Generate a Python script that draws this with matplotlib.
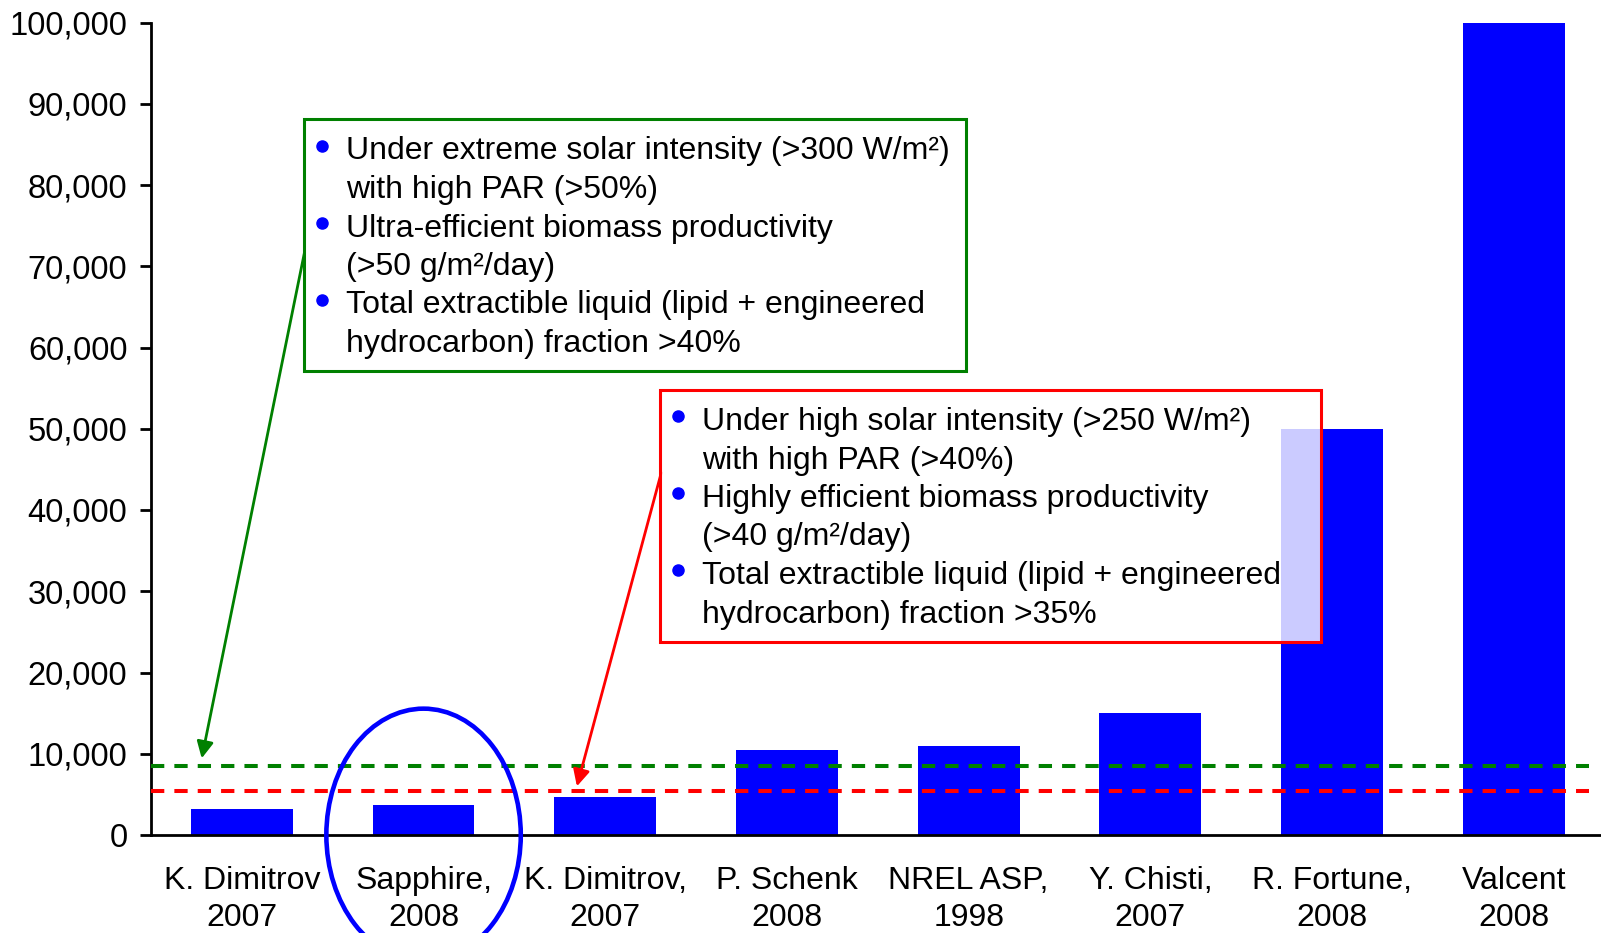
import matplotlib
matplotlib.use("Agg")
import matplotlib.pyplot as plt
from matplotlib.patches import Rectangle, Ellipse
from matplotlib.lines import Line2D

plt.rcParams['font.family'] = ['Liberation Sans', 'DejaVu Sans']

# data
labels = ["K. Dimitrov\n2007", "Sapphire,\n2008", "K. Dimitrov,\n2007", "P. Schenk\n2008",
          "NREL ASP,\n1998", "Y. Chisti,\n2007", "R. Fortune,\n2008", "Valcent\n2008"]
values = [3200, 3700, 4700, 10500, 11000, 15000, 50000, 100000]
yticks = [0, 10000, 20000, 30000, 40000, 50000, 60000, 70000, 80000, 90000, 100000]
green_level = 8500
red_level = 5400

green_lines = ["Under extreme solar intensity (>300 W/m²)",
               "with high PAR (>50%)",
               "Ultra-efficient biomass productivity",
               "(>50 g/m²/day)",
               "Total extractible liquid (lipid + engineered",
               "hydrocarbon) fraction >40%"]
red_lines = ["Under high solar intensity (>250 W/m²)",
             "with high PAR (>40%)",
             "Highly efficient biomass productivity",
             "(>40 g/m²/day)",
             "Total extractible liquid (lipid + engineered",
             "hydrocarbon) fraction >35%"]
bullet_rows = [0, 2, 4]

W, H = 1601, 933
fig = plt.figure(figsize=(W / 100, H / 100), dpi=100)
ax = fig.add_axes([151 / W, 98 / H, 1 - 151 / W, (835 - 22.5) / H])

x = list(range(len(labels)))
ax.bar(x, values, width=0.56, color='#0000ff', zorder=2)
ax.set_xlim(-0.5, 7.48)
ax.set_ylim(0, 100000)
ax.set_yticks(yticks)
ax.set_yticklabels([f"{v:,}" for v in yticks])
ax.set_xticks(x)
ax.set_xticklabels(labels, linespacing=1.32)

ax.tick_params(axis='y', labelsize=23.5, length=8, width=2, pad=9)
ax.tick_params(axis='x', labelsize=23, length=0, pad=22)
for s in ['top', 'right']:
    ax.spines[s].set_visible(False)
ax.spines['left'].set_linewidth(2)
ax.spines['bottom'].set_linewidth(2)

# threshold lines
ax.axhline(green_level, xmin=0, xmax=0.992, color='#008000', lw=2.9,
           linestyle=(0, (3.3, 2.5)), zorder=3)
ax.axhline(red_level, xmin=0, xmax=0.992, color='#ff0000', lw=2.9,
           linestyle=(0, (3.3, 2.5)), zorder=3)

# circle around Sapphire
ax.add_patch(Ellipse((1, 0), 1.07, 31100, fill=False, edgecolor='#0000ff',
                     lw=3.3, clip_on=False, zorder=4))


def fx(px):
    return px / W


def fy(py):
    return 1 - py / H


def draw_box(x0, y0, x1, y1, color, lines, face_alpha):
    fig.patches.append(Rectangle((fx(x0), fy(y1)), fx(x1 - x0), (y1 - y0) / H,
                                 transform=fig.transFigure, facecolor=(1, 1, 1, face_alpha),
                                 edgecolor=color, lw=2.2, zorder=5))
    base = y0 + 40
    for i, line in enumerate(lines):
        yb = base + i * 38.5
        if i in bullet_rows:
            fig.add_artist(Line2D([fx(x0 + 18)], [fy(yb - 14)], marker='o', ms=8,
                                  color='#0000ff', transform=fig.transFigure, zorder=6))
        fig.text(fx(x0 + 42), fy(yb), line, fontsize=23, ha='left', va='baseline', zorder=6)


draw_box(304, 119.5, 966, 370.7, '#008000', green_lines, 1.0)
draw_box(659.6, 390, 1321.3, 642.3, '#ff0000', red_lines, 0.8)

# arrows
ax.annotate("", xy=(-0.224, 9100), xycoords='data', xytext=(306, H - 245),
            textcoords='figure pixels',
            arrowprops=dict(arrowstyle='-|>', color='#008000', lw=2, mutation_scale=25),
            zorder=4)
ax.annotate("", xy=(1.84, 5660), xycoords='data', xytext=(662, H - 470),
            textcoords='figure pixels',
            arrowprops=dict(arrowstyle='-|>', color='#ff0000', lw=2, mutation_scale=25),
            zorder=4)

fig.savefig("out.png", dpi=100)
